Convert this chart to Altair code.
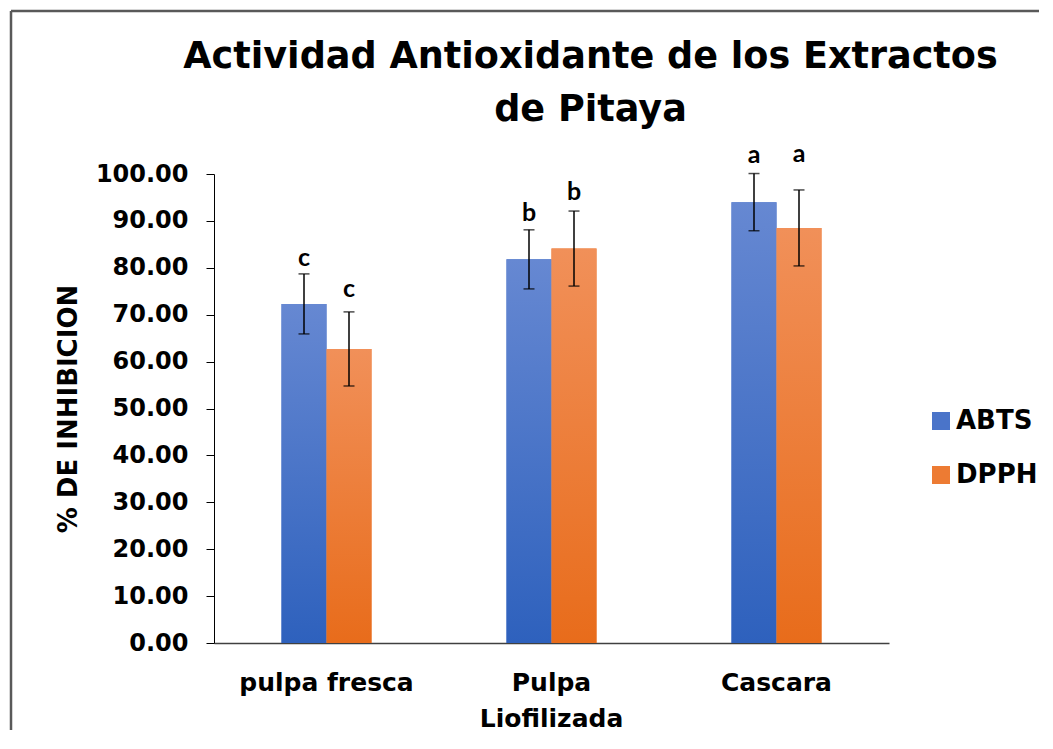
import altair as alt
import pandas as pd

categories = ["pulpa fresca", "Pulpa Liofilizada", "Cascara"]
series = ["ABTS", "DPPH"]
abts = [72.3, 81.8, 94.0]
dpph = [62.7, 84.1, 88.5]
abts_err = [6.4, 6.3, 6.1]
dpph_err = [7.9, 8.0, 8.1]
abts_letters = ["c", "b", "a"]
dpph_letters = ["c", "b", "a"]
abts_letter_y = [80.4, 90.0, 102.3]
dpph_letter_y = [73.8, 94.5, 102.5]
y_ticks = [0, 10, 20, 30, 40, 50, 60, 70, 80, 90, 100]

rows = []
for i, c in enumerate(categories):
    rows.append(dict(category=c, series="ABTS", value=abts[i], low=abts[i] - abts_err[i],
                     high=abts[i] + abts_err[i], letter=abts_letters[i], ly=abts_letter_y[i]))
    rows.append(dict(category=c, series="DPPH", value=dpph[i], low=dpph[i] - dpph_err[i],
                     high=dpph[i] + dpph_err[i], letter=dpph_letters[i], ly=dpph_letter_y[i]))
df = pd.DataFrame(rows)

blue_grad = {"gradient": "linear", "x1": 0, "y1": 0, "x2": 0, "y2": 1,
             "stops": [{"offset": 0, "color": "#6688d2"}, {"offset": 1, "color": "#2e61bd"}]}
orange_grad = {"gradient": "linear", "x1": 0, "y1": 0, "x2": 0, "y2": 1,
               "stops": [{"offset": 0, "color": "#f19059"}, {"offset": 1, "color": "#e86c1b"}]}

FONT = "DejaVu Sans"

x_enc = alt.X("category:N", sort=categories,
              scale=alt.Scale(paddingInner=0.6, paddingOuter=0.3),
              axis=alt.Axis(title=None, labelAngle=0, ticks=False, tickSize=0,
                            labelFont=FONT, labelFontSize=25, labelFontWeight="bold",
                            labelColor="black", labelPadding=27, labelLimit=400,
                            labelLineHeight=36, domainColor="#404040", domainWidth=1.5,
                            labelExpr="datum.label == 'Pulpa Liofilizada' ? ['Pulpa', 'Liofilizada'] : datum.label"))
xoff = alt.XOffset("series:N", scale=alt.Scale(domain=series, paddingInner=0, paddingOuter=0))
y_scale = alt.Scale(domain=[0, 100], nice=False)

base = alt.Chart(df).encode(x=x_enc, xOffset=xoff)

bars_legend = base.mark_bar().encode(
    y=alt.Y("value:Q", scale=y_scale,
            axis=alt.Axis(values=y_ticks, format=".2f", grid=False, title="% DE INHIBICION",
                          labelFont=FONT, labelFontSize=24, labelFontWeight="bold", labelColor="black",
                          tickSize=8, tickColor="black", domainColor="black", labelPadding=18,
                          titleFont=FONT, titleFontSize=26, titleFontWeight="bold", titleColor="black",
                          titlePadding=14)),
    color=alt.Color("series:N", scale=alt.Scale(domain=series, range=["#4a74c9", "#ed7b33"]),
                    legend=alt.Legend(title=None, orient="none", legendX=714, legendY=234,
                                      symbolType="square", symbolSize=324, symbolStrokeWidth=0,
                                      labelFont=FONT, labelFontSize=26, labelFontWeight="bold",
                                      labelColor="black", rowPadding=28, labelOffset=2, padding=0)),
)
bars_abts = base.transform_filter(alt.datum.series == "ABTS").mark_bar(fill=blue_grad).encode(
    y=alt.Y("value:Q", scale=y_scale))
bars_dpph = base.transform_filter(alt.datum.series == "DPPH").mark_bar(fill=orange_grad).encode(
    y=alt.Y("value:Q", scale=y_scale))

err = base.mark_rule(color="black", strokeWidth=1.5).encode(y=alt.Y("low:Q", scale=y_scale), y2="high:Q")
cap_hi = base.mark_tick(color="black", size=11, thickness=1.5).encode(y=alt.Y("high:Q", scale=y_scale))
cap_lo = base.mark_tick(color="black", size=11, thickness=1.5).encode(y=alt.Y("low:Q", scale=y_scale))
letters = base.mark_text(font="Lato", fontSize=25, fontWeight="bold", color="black",
                         baseline="alphabetic", align="center").encode(
    y=alt.Y("ly:Q", scale=y_scale), text="letter:N")

frame_df = pd.DataFrame({"k": [0]})
frame_top = alt.Chart(frame_df).mark_rule(color="#595959", strokeWidth=2.5).encode(
    x=alt.value(-203), x2=alt.value(825), y=alt.value(-163))
frame_left = alt.Chart(frame_df).mark_rule(color="#595959", strokeWidth=2.5).encode(
    x=alt.value(-203), y=alt.value(-163), y2=alt.value(556))

chart = alt.layer(frame_top, frame_left, bars_legend, bars_abts, bars_dpph, err, cap_hi, cap_lo, letters).properties(
    width=675, height=469,
    background="white",
    padding={"left": 1, "top": 1, "right": 0, "bottom": 0},
    title=alt.Title(["Actividad Antioxidante de los Extractos", "de Pitaya"], font=FONT, fontSize=36.6,
                    fontWeight="bold", lineHeight=53, anchor="middle", frame="group", dx=39,
                    offset=-119, color="black"),
).configure_view(strokeWidth=0)

chart.save("out.html", embed_options={"renderer": "svg", "actions": False})
